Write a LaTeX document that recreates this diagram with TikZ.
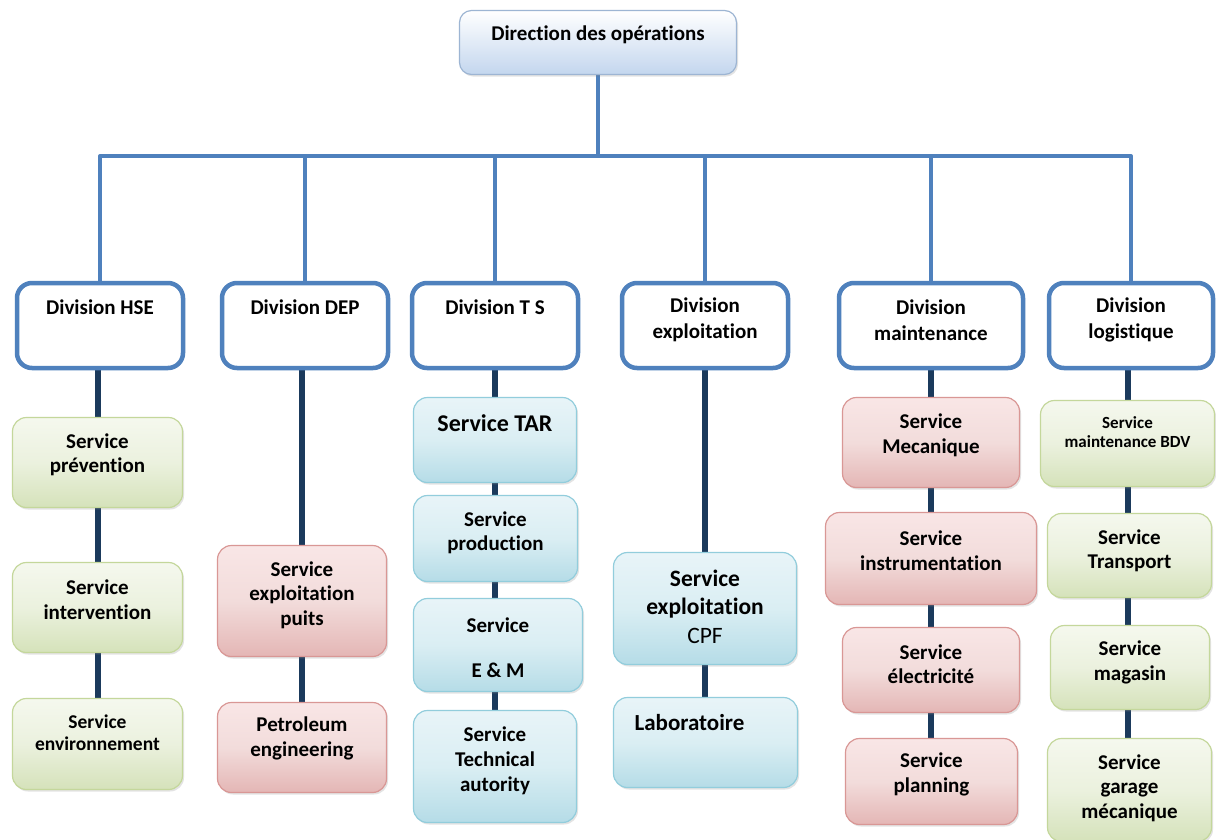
\documentclass[tikz,border=0pt]{standalone}
\usepackage{fontspec}
\setmainfont{Carlito}[Ligatures={NoCommon}]
\usetikzlibrary{shadows,backgrounds}

\definecolor{barblue}{HTML}{4F81BD}
\definecolor{navy}{HTML}{1B3A5C}
\definecolor{diredge}{HTML}{9DB5D3}
\definecolor{dirbot}{HTML}{C3D6EE}
\definecolor{gedge}{HTML}{C4D79B}
\definecolor{gtop}{HTML}{F5F8EE}
\definecolor{gmid}{HTML}{EBF1DE}
\definecolor{gbot}{HTML}{D5E2BA}
\definecolor{redge}{HTML}{D99795}
\definecolor{rtop}{HTML}{F9E6E6}
\definecolor{rmid}{HTML}{F2DCDB}
\definecolor{rbot}{HTML}{E4B6B5}
\definecolor{bedge}{HTML}{92CDDC}
\definecolor{btop}{HTML}{E8F4F8}
\definecolor{bmid}{HTML}{DAEEF3}
\definecolor{bbot}{HTML}{B5DCE7}

\begin{document}
\begin{tikzpicture}[x=1pt,y=-1pt,
  mainline/.style={draw=barblue, line width=4pt, line join=round},
  subline/.style={draw=navy, line width=6pt},
  lb/.style={align=center, inner sep=0pt, text=black},
  card/.style={rounded corners=14pt, inner sep=0pt, line width=1.2pt,
    drop shadow={shadow xshift=1.5pt, shadow yshift=-2pt, opacity=0.22}},
  dirbox/.style={card, draw=diredge, top color=white, bottom color=dirbot, rounded corners=12pt},
  divbox/.style={draw=barblue, line width=4.5pt, fill=white, rounded corners=15pt, inner sep=0pt},
  svgreen/.style={card, draw=gedge, top color=gtop, bottom color=gbot, middle color=gmid},
  svred/.style={card, draw=redge, top color=rtop, bottom color=rbot, middle color=rmid},
  svblue/.style={card, draw=bedge, top color=btop, bottom color=bbot, middle color=bmid}]

\useasboundingbox (0,0) rectangle (1216,839);

\newcommand{\fA}{\fontsize{21}{24.5}\selectfont\bfseries}
\newcommand{\fD}{\fontsize{21}{26}\selectfont\bfseries}

% head
\node[dirbox, minimum width=277, minimum height=64,
  label={[lb, font=\fA, yshift=7.5pt]center:Direction des opérations}] (dir) at (598,42.5) {};

% divisions
\node[divbox, minimum width=166, minimum height=85,
  label={[lb, font=\fD, yshift=18.5pt]center:Division HSE}] (hse) at (100,325.5) {};
\node[divbox, minimum width=166, minimum height=85,
  label={[lb, font=\fD, yshift=18.5pt]center:Division DEP}] (dep) at (305,325.5) {};
\node[divbox, minimum width=166, minimum height=85,
  label={[lb, font=\fD, yshift=18.5pt]center:Division T S}] (ts) at (495,325.5) {};
\node[divbox, minimum width=166, minimum height=85,
  label={[lb, font=\fD, yshift=5.5pt]center:{Division\\exploitation}}] (expl) at (705,325.5) {};
\node[divbox, minimum width=184, minimum height=85,
  label={[lb, font=\fD, yshift=5.5pt]center:{Division\\maintenance}}] (maint) at (931,325.5) {};
\node[divbox, minimum width=164, minimum height=85,
  label={[lb, font=\fD, yshift=5.5pt]center:{Division\\logistique}}] (logi) at (1131,325.5) {};

% HSE services
\node[svgreen, minimum width=170, minimum height=90,
  label={[lb, font=\fA, yshift=7.5pt]center:{Service\\prévention}}] (prev) at (97.5,462.5) {};
\node[svgreen, minimum width=170, minimum height=90,
  label={[lb, font=\fA, yshift=8pt]center:{Service\\intervention}}] (interv) at (97.5,607.5) {};
\node[svgreen, minimum width=170, minimum height=91,
  label={[lb, font=\fontsize{19.5}{21.5}\selectfont\bfseries, yshift=11.5pt]center:{Service\\environnement}}] (envir) at (97.5,744) {};

% DEP services
\node[svred, minimum width=169, minimum height=111,
  label={[lb, font=\fA, yshift=6pt]center:{Service\\exploitation\\puits}}] (puits) at (302,601) {};
\node[svred, minimum width=169, minimum height=90,
  label={[lb, font=\fA, yshift=9pt]center:{Petroleum\\engineering}}] (petro) at (302,747.5) {};

% T S services
\node[svblue, minimum width=163, minimum height=85,
  label={[lb, font=\fontsize{24}{28}\selectfont\bfseries, yshift=17pt]center:Service TAR}] (tar) at (495,440) {};
\node[svblue, minimum width=164, minimum height=86,
  label={[lb, font=\fA, yshift=5.5pt]center:{Service\\production}}] (prod) at (495.5,538.5) {};
\node[svblue, minimum width=169, minimum height=93,
  label={[lb, font=\fontsize{21}{22.5}\selectfont\bfseries, yshift=-2.5pt]center:{Service\\\mbox{}\\E \& M}}] (em) at (498,645) {};
\node[svblue, minimum width=163, minimum height=112,
  label={[lb, font=\fontsize{21}{25}\selectfont\bfseries, yshift=5.5pt]center:{Service\\Technical\\autority}}] (tech) at (495,766.5) {};

% exploitation services
\node[svblue, minimum width=183, minimum height=112,
  label={[lb, font=\fontsize{23.5}{28.5}\selectfont\bfseries, yshift=2pt]center:{Service\\exploitation\\\mdseries CPF}}] (cpf) at (705,608.5) {};
\node[svblue, minimum width=184, minimum height=90,
  label={[lb, font=\fontsize{23}{27}\selectfont\bfseries, yshift=19.5pt, xshift=-16pt]center:Laboratoire}] (labo) at (705.5,742.5) {};

% maintenance services
\node[svred, minimum width=177, minimum height=90,
  label={[lb, font=\fA, yshift=7pt]center:{Service\\Mecanique}}] (meca) at (931,442.5) {};
\node[svred, minimum width=211, minimum height=92,
  label={[lb, font=\fA, yshift=8pt]center:{Service\\instrumentation}}] (instr) at (931,558.5) {};
\node[svred, minimum width=177, minimum height=85,
  label={[lb, font=\fA, yshift=6pt]center:{Service\\électricité}}] (elec) at (931,670) {};
\node[svred, minimum width=172, minimum height=86,
  label={[lb, font=\fA, yshift=7pt]center:{Service\\planning}}] (plan) at (931.5,781.5) {};

% logistics services
\node[svgreen, minimum width=174, minimum height=86,
  label={[lb, font=\fontsize{17}{19}\selectfont\bfseries, yshift=11pt]center:{Service\\maintenance BDV}}] (bdv) at (1127.5,443.5) {};
\node[svgreen, minimum width=164, minimum height=84,
  label={[lb, font=\fA, yshift=4.5pt]center:{Service\\Transport}}] (transp) at (1129.5,555.5) {};
\node[svgreen, minimum width=159, minimum height=84,
  label={[lb, font=\fA, yshift=5pt]center:{Service\\magasin}}] (mag) at (1130,667.5) {};
\node[svgreen, minimum width=164, minimum height=103,
  label={[lb, font=\fA, yshift=2pt]center:{Service\\garage\\mécanique}}] (garage) at (1129.5,790) {};

\coordinate (bar) at (598,156);

\begin{pgfonlayer}{background}
  % white page under everything
  \fill[white] (0,0) rectangle (1216,839);
  % direction to divisions
  \draw[mainline] (dir.south) -- (dir.south |- bar);
  \draw[mainline] (hse.north) -- (hse.north |- bar) -- (logi.north |- bar) -- (logi.north);
  \foreach \d in {dep,ts,expl,maint}
    \draw[mainline] (\d.north) -- (\d.north |- bar);
  % divisions to their services (one straight spine per column)
  \draw[subline] (prev.north |- hse.south) -- (prev.north |- envir.north);
  \draw[subline] (puits.north |- dep.south) -- (puits.north |- petro.north);
  \draw[subline] (tar.north |- ts.south) -- (tar.north |- tech.north);
  \draw[subline] (cpf.north |- expl.south) -- (cpf.north |- labo.north);
  \draw[subline] (meca.north |- maint.south) -- (meca.north |- plan.north);
  \draw[subline] (bdv.north |- logi.south) -- (bdv.north |- garage.north);
\end{pgfonlayer}
\end{tikzpicture}
\end{document}
